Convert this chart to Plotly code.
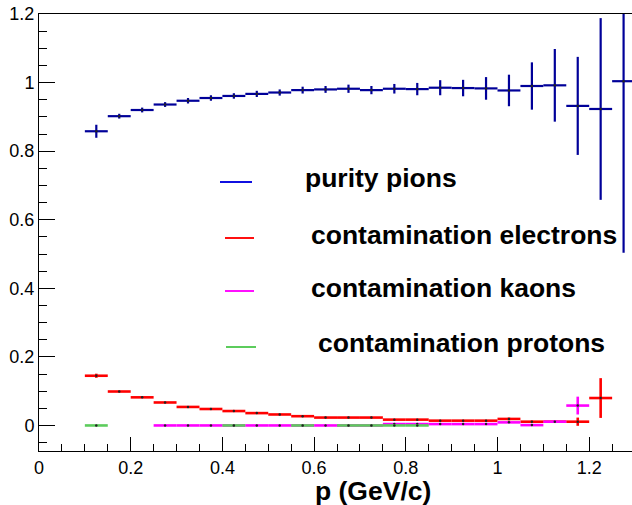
import plotly.graph_objects as go

# ---------------- data ----------------
pion_p = [0.125, 0.175, 0.225, 0.275, 0.325, 0.375, 0.425, 0.475, 0.525, 0.575,
          0.625, 0.675, 0.725, 0.775, 0.825, 0.875, 0.925, 0.975, 1.025, 1.075,
          1.125, 1.175, 1.225, 1.275]
pion_purity = [0.858, 0.902, 0.920, 0.936, 0.947, 0.955, 0.961, 0.967, 0.971, 0.978,
               0.980, 0.982, 0.978, 0.982, 0.981, 0.985, 0.984, 0.983, 0.977, 0.990,
               0.992, 0.932, 0.923, 1.004]
pion_err = [0.019, 0.007, 0.007, 0.007, 0.008, 0.008, 0.008, 0.009, 0.009, 0.010,
            0.010, 0.012, 0.012, 0.014, 0.018, 0.022, 0.024, 0.033, 0.046, 0.069,
            0.106, 0.143, 0.265, 0.500]

ele_p = [0.125, 0.175, 0.225, 0.275, 0.325, 0.375, 0.425, 0.475, 0.525, 0.575,
         0.625, 0.675, 0.725, 0.775, 0.825, 0.875, 0.925, 0.975, 1.025, 1.075,
         1.125, 1.175, 1.225]
ele_cont = [0.145, 0.099, 0.082, 0.067, 0.054, 0.048, 0.042, 0.036, 0.032, 0.027,
            0.023, 0.023, 0.023, 0.017, 0.017, 0.014, 0.014, 0.014, 0.019, 0.011,
            0.011, 0.011, 0.080]
ele_err = [0.006, 0.002, 0.002, 0.002, 0.002, 0.002, 0.002, 0.002, 0.002, 0.002,
           0.002, 0.002, 0.002, 0.002, 0.002, 0.002, 0.002, 0.002, 0.004, 0.003,
           0.003, 0.012, 0.058]

kaon_p = [0.275, 0.325, 0.375, 0.425, 0.475, 0.525, 0.575, 0.625, 0.675, 0.725,
          0.775, 0.825, 0.875, 0.925, 0.975, 1.025, 1.075, 1.125, 1.175]
kaon_cont = [0.0, 0.0, 0.0, 0.0, 0.0, 0.0, 0.0, 0.0, 0.0, 0.0,
             0.004, 0.004, 0.004, 0.004, 0.004, 0.009, 0.001, 0.011, 0.058]
kaon_err = [0.0, 0.0, 0.0, 0.0, 0.0, 0.0, 0.0, 0.0, 0.0, 0.0,
            0.001, 0.001, 0.001, 0.001, 0.001, 0.002, 0.001, 0.004, 0.026]

prot_p = [0.125, 0.425, 0.575, 0.675, 0.725, 0.775, 0.825]
prot_cont = [0.0, 0.0, 0.0, 0.0, 0.0, 0.0, 0.0]
prot_err = [0.0, 0.0, 0.0, 0.0, 0.0, 0.0, 0.0]

half_bin = 0.025

legend_labels = ["purity pions", "contamination electrons",
                 "contamination kaons", "contamination protons"]
x_ticks = [0, 0.2, 0.4, 0.6, 0.8, 1, 1.2]
x_ticktext = ["0", "0.2", "0.4", "0.6", "0.8", "1", "1.2"]
y_ticks = [0, 0.2, 0.4, 0.6, 0.8, 1, 1.2]
y_ticktext = ["0", "0.2", "0.4", "0.6", "0.8", "1", "1.2"]

# ---------------- style ----------------
W, H = 632, 505
ML, MT, MR, MB = 39, 14, 0, 54
PW, PH = W - ML - MR, H - MT - MB

C_PI = "#000099"
C_EL = "#ff0000"
C_KA = "#ff00ff"
C_PR = "#5ccc5c"
LEG_COLORS = ["#1010e0", "#ff1010", "#ff10ff", "#5ccc5c"]
TXT_SIZE = 26.5


def trace(xs, ys, es, color, thick):
    return go.Scatter(
        x=xs, y=ys, mode="markers",
        marker=dict(size=2.5, color="#222222"),
        error_x=dict(type="constant", value=half_bin, color=color,
                     thickness=thick, width=0),
        error_y=dict(type="data", array=es, color=color,
                     thickness=thick, width=0),
        showlegend=False, hoverinfo="skip",
    )


fig = go.Figure()
fig.add_trace(trace(pion_p, pion_purity, pion_err, C_PI, 2.2))
fig.add_trace(trace(ele_p, ele_cont, ele_err, C_EL, 2.6))
fig.add_trace(trace(kaon_p, kaon_cont, kaon_err, C_KA, 2.6))
fig.add_trace(trace(prot_p, prot_cont, prot_err, C_PR, 2.6))


def px2paper(px, py):
    return (px - ML) / PW, (H - MB - py) / PH


# legend drawn as shapes + annotations
leg_lines = [(220, 252, 182), (225, 254, 238), (225, 254, 291), (226, 256, 347)]
leg_text = [(303, 178), (309, 235), (309, 288), (316, 343)]
shapes = []
annotations = []
for (x0, x1, yy), (tx, ty), lab, col in zip(leg_lines, leg_text, legend_labels, LEG_COLORS):
    a0, b0 = px2paper(x0, yy)
    a1, _ = px2paper(x1, yy)
    shapes.append(dict(type="line", xref="paper", yref="paper",
                       x0=a0, x1=a1, y0=b0, y1=b0,
                       line=dict(color=col, width=2)))
    ax, ay = px2paper(tx, ty)
    annotations.append(dict(text=lab, xref="paper", yref="paper", x=ax, y=ay,
                            xanchor="left", yanchor="middle", showarrow=False,
                            font=dict(family="Liberation Sans, Arial", size=TXT_SIZE,
                                      color="black", weight="bold")))

tx, ty = px2paper(373, 507)
annotations.append(dict(text="p (GeV/c)", xref="paper", yref="paper", x=tx, y=ty,
                        xanchor="center", yanchor="bottom", showarrow=False,
                        borderpad=0,
                        font=dict(family="Liberation Sans, Arial", size=TXT_SIZE,
                                  color="black", weight="bold")))

fig.update_layout(
    width=W, height=H,
    margin=dict(l=ML, r=MR, t=MT, b=MB, pad=0, autoexpand=False),
    paper_bgcolor="white", plot_bgcolor="white",
    shapes=shapes, annotations=annotations,
    font=dict(family="Liberation Sans, Arial", size=18, color="black"),
    xaxis=dict(range=[0, PW / 458.5], showgrid=False, zeroline=False,
               automargin=False,
               showline=True, linecolor="black", linewidth=1, mirror=True,
               ticks="inside", ticklen=14, tickwidth=1, tickcolor="black",
               tickvals=x_ticks, ticktext=x_ticktext,
               minor=dict(ticks="inside", ticklen=7, tickwidth=1,
                          tickcolor="black", dtick=0.05, tick0=0, showgrid=False)),
    yaxis=dict(range=[-0.0745, 1.2], showgrid=False, zeroline=False,
               automargin=False,
               showline=True, linecolor="black", linewidth=1,
               ticks="inside", ticklen=16, tickwidth=1, tickcolor="black",
               tickvals=y_ticks, ticktext=y_ticktext,
               minor=dict(ticks="inside", ticklen=8, tickwidth=1,
                          tickcolor="black", dtick=0.05, tick0=0, showgrid=False)),
)

fig.write_html("out.html",
               config={"displayModeBar": False, "staticPlot": True},
               post_script="document.body.style.margin='0';"
                           "document.body.style.overflow='hidden';")
